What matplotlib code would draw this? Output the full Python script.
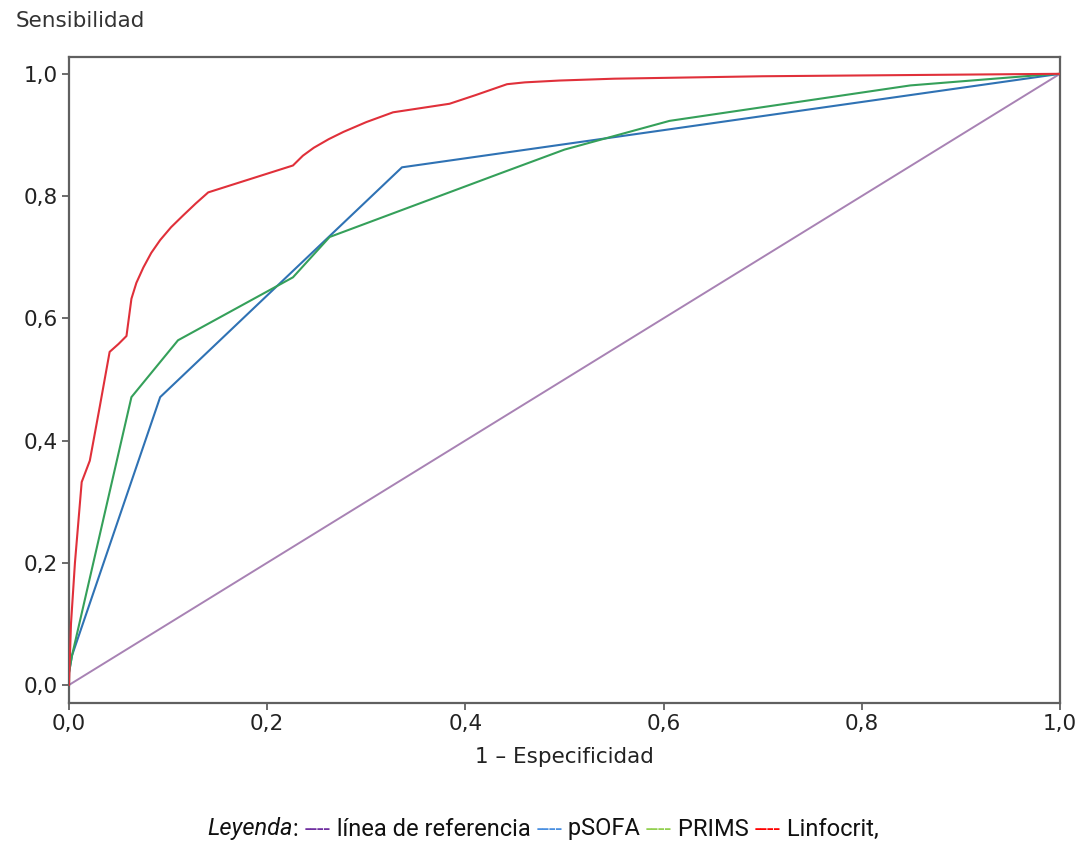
import matplotlib
matplotlib.use("Agg")
import matplotlib.pyplot as plt
from matplotlib.offsetbox import TextArea, HPacker, AnchoredOffsetbox

plt.rcParams["font.family"] = ["DejaVu Sans"]

# ---- data ----
ref_x = [0.0, 1.0]
ref_y = [0.0, 1.0]

psofa_x = [0.0, 0.0, 0.003, 0.092, 0.336, 1.0]
psofa_y = [0.0, 0.02, 0.048, 0.471, 0.847, 1.0]

prims_x = [0.0, 0.0, 0.003, 0.063, 0.110, 0.226, 0.263, 0.435, 0.500, 0.606, 0.849, 0.980, 1.0]
prims_y = [0.0, 0.02, 0.048, 0.471, 0.564, 0.667, 0.733, 0.837, 0.876, 0.923, 0.981, 0.998, 1.0]

linfo_x = [0.0, 0.002, 0.006, 0.0128, 0.021, 0.031, 0.041, 0.050, 0.058, 0.0616, 0.063,
           0.068, 0.075, 0.083, 0.092, 0.103, 0.115, 0.128, 0.1405, 0.226, 0.236, 0.247,
           0.262, 0.277, 0.300, 0.327, 0.384, 0.410, 0.442, 0.460, 0.495, 0.550, 0.700, 1.0]
linfo_y = [0.0, 0.10, 0.20, 0.332, 0.367, 0.455, 0.545, 0.558, 0.571, 0.615, 0.632,
           0.658, 0.683, 0.707, 0.728, 0.749, 0.768, 0.788, 0.806, 0.850, 0.866, 0.879,
           0.893, 0.905, 0.921, 0.937, 0.951, 0.965, 0.983, 0.986, 0.989, 0.992, 0.996, 1.0]

xticks = [0.0, 0.2, 0.4, 0.6, 0.8, 1.0]
yticks = [0.0, 0.2, 0.4, 0.6, 0.8, 1.0]
tick_labels = ["0,0", "0,2", "0,4", "0,6", "0,8", "1,0"]

legend_parts = [
    ("Leyenda", "#111111", "italic"),
    (": ", "#111111", "normal"),
    ("----", "#7030a0", "normal"),
    (" línea de referencia ", "#111111", "normal"),
    ("----", "#4a8fe0", "normal"),
    (" pSOFA ", "#111111", "normal"),
    ("----", "#92d050", "normal"),
    (" PRIMS ", "#111111", "normal"),
    ("----", "#ff0000", "normal"),
    (" Linfocrit,", "#111111", "normal"),
]

# ---- figure ----
fig = plt.figure(figsize=(10.92, 8.48), dpi=100)
ax = fig.add_axes([69 / 1092, 1 - 703 / 848, (1060 - 69) / 1092, (703 - 57) / 848])

ax.plot(ref_x, ref_y, color="#a882b4", lw=1.4, zorder=2)
ax.plot(psofa_x, psofa_y, color="#2f72b4", lw=1.5, zorder=3)
ax.plot(prims_x, prims_y, color="#35a05a", lw=1.5, zorder=4)
ax.plot(linfo_x, linfo_y, color="#e0303a", lw=1.5, zorder=5)

ax.set_xlim(0, 1)
ax.set_ylim(-0.0295, 1.0275)
ax.set_xticks(xticks)
ax.set_xticklabels(tick_labels)
ax.set_yticks(yticks)
ax.set_yticklabels(tick_labels)
for s in ax.spines.values():
    s.set_color("#606060")
    s.set_linewidth(1.6)
ax.tick_params(direction="out", length=5, width=1.3, color="#606060",
               labelsize=15.5, labelcolor="#222222", pad=3)

ax.set_xlabel("1 – Especificidad", fontsize=15.5, color="#222222", labelpad=9)
fig.text(16 / 1092, 1 - 21 / 848, "Sensibilidad", fontsize=15.5, color="#333333",
         ha="left", va="center")

children = []
for txt, col, style in legend_parts:
    children.append(TextArea(txt, textprops=dict(color=col, fontstyle=style,
                                                 family="Roboto", fontsize=17)))
box = HPacker(children=children, align="baseline", pad=0, sep=0)
anch = AnchoredOffsetbox(loc="center", child=box, frameon=False,
                         bbox_to_anchor=(543 / 1092, 1 - 829 / 848),
                         bbox_transform=fig.transFigure, pad=0, borderpad=0)
fig.add_artist(anch)

fig.savefig("out.png", dpi=100, facecolor="white")
